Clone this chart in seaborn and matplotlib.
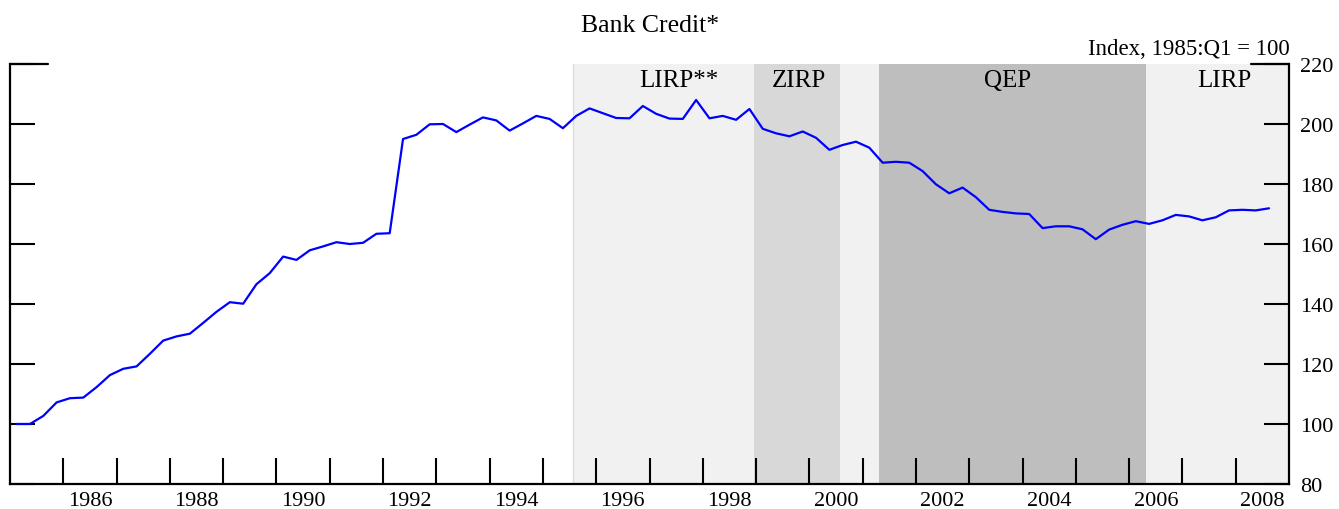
import matplotlib
matplotlib.use("Agg")
import matplotlib.pyplot as plt
import seaborn as sns
import numpy as np
import pandas as pd

# Bank credit index, 1985:Q1 = 100, quarterly 1985Q1 - 2008Q3
credit = [100.0, 100.0, 102.7, 107.2, 108.6, 108.8, 112.3, 116.3, 118.4, 119.2,
          123.4, 127.8, 129.2, 130.1, 133.7, 137.4, 140.6, 140.1, 146.6, 150.3,
          155.8, 154.7, 157.9, 159.2, 160.6, 160.0, 160.4, 163.4, 163.6, 195.0,
          196.4, 199.9, 200.0, 197.3, 199.8, 202.2, 201.2, 197.8, 200.2, 202.7,
          201.7, 198.6, 202.7, 205.2, 203.6, 202.0, 201.9, 206.0, 203.4, 201.8,
          201.7, 208.0, 201.9, 202.7, 201.4, 205.0, 198.4, 196.9, 195.9, 197.5,
          195.4, 191.4, 193.0, 194.1, 192.1, 187.1, 187.4, 187.1, 184.3, 179.9,
          176.9, 178.8, 175.6, 171.4, 170.7, 170.2, 170.0, 165.3, 165.9, 165.9,
          164.9, 161.6, 164.8, 166.4, 167.6, 166.7, 167.9, 169.7, 169.2, 167.9,
          168.9, 171.2, 171.4, 171.2, 171.9]
start_quarter = "1985Q1"

# policy periods (fractional years)
period_names = ["LIRP**", "ZIRP", "", "QEP", "LIRP"]
period_start = [1995.56, 1998.97, 2000.57, 2001.31, 2006.31]
period_end = [1998.97, 2000.57, 2001.31, 2006.31, 2009.0]
period_colors = ["#f1f1f1", "#d8d8d8", "#f1f1f1", "#bebebe", "#f1f1f1"]
label_x = [1997.56, 1999.81, None, 2003.72, 2007.78]

year_ticks = list(range(1986, 2009))
year_labels = [str(y) for y in range(1986, 2009, 2)]
y_ticks = [80, 100, 120, 140, 160, 180, 200, 220]

# quarter mid-points as fractional years
q = pd.period_range(start_quarter, periods=len(credit), freq="Q")
xpos = q.year + (q.quarter - 1) / 4 + 0.125
df = pd.DataFrame({"year": xpos, "credit": credit})

sns.set_style("white")
plt.rcParams['font.family'] = ['Liberation Serif', 'DejaVu Serif']
plt.rcParams['text.color'] = 'black'
plt.rcParams['xtick.labelcolor'] = 'black'
plt.rcParams['ytick.labelcolor'] = 'black'

fig = plt.figure(figsize=(13.39, 5.10), dpi=100)
ax = fig.add_axes([10 / 1339, 1 - 485 / 510, 1279 / 1339, 420 / 510])

for s, e, c in zip(period_start, period_end, period_colors):
    ax.axvspan(s, e, color=c, zorder=0, lw=0)
ax.axvline(period_start[0], color="#dcdcdc", lw=1, zorder=0.5)

sns.lineplot(data=df, x="year", y="credit", color="#0000ff", lw=1.6, ax=ax, zorder=3)

for name, lx in zip(period_names, label_x):
    if name:
        ax.text(lx, 212.6, name, ha="center", va="baseline", fontsize=18,
                color="black", zorder=4)

ax.set_xlim(1985, 2009)
ax.set_ylim(80, 220)

ax.set_xticks(year_ticks)
ax.set_xticklabels([])
ax.set_xticks([int(l) + 0.5 for l in year_labels], minor=True)
ax.set_xticklabels(year_labels, minor=True)
ax.tick_params(axis="x", which="major", direction="in", length=19, width=1.5,
               color="black", bottom=True, top=False)
ax.tick_params(axis="x", which="minor", length=0, labelsize=16, pad=5,
               bottom=True, labelcolor="black")

ax.set_yticks(y_ticks)
ax.yaxis.tick_right()
ax.set_yticklabels([str(v) for v in y_ticks])
ax.tick_params(axis="y", which="major", direction="in", length=18, width=1.5,
               color="black", labelsize=16, pad=8, left=True, right=True,
               labelleft=False, labelright=True, labelcolor="black")

# short top caps on both sides
ax.axhline(220, xmin=0, xmax=0.03, color="black", lw=1.6, zorder=5, clip_on=False)
ax.axhline(220, xmin=0.97, xmax=1, color="black", lw=1.6, zorder=5, clip_on=False)

for side in ["left", "right", "bottom"]:
    ax.spines[side].set_visible(True)
    ax.spines[side].set_color("black")
    ax.spines[side].set_linewidth(1.6)
ax.spines["top"].set_visible(False)

ax.set_xlabel("")
ax.set_ylabel("")

fig.text(650 / 1339, 1 - 31.5 / 510, "Bank Credit*", ha="center", va="baseline",
         fontsize=18.5, color="black")
fig.text(1290 / 1339, 1 - 55 / 510, "Index, 1985:Q1 = 100", ha="right", va="baseline",
         fontsize=16.5, color="black")

fig.savefig("out.png", dpi=100)
